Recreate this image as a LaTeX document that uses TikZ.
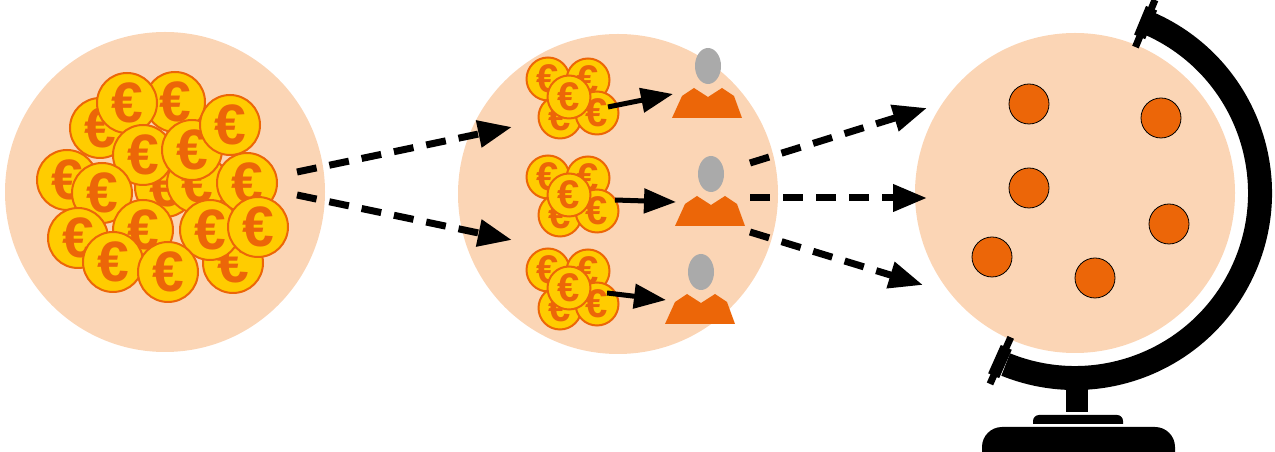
\documentclass[tikz,border=0pt]{standalone}
\usepackage{fontspec}
\newfontfamily\coinfont{Liberation Sans}
\usetikzlibrary{arrows.meta}

\definecolor{peach}{HTML}{FBD5B5}
\definecolor{ecorange}{HTML}{EC6608}
\definecolor{coingold}{HTML}{FFCC00}
\definecolor{headgrey}{HTML}{AAAAAA}

\tikzset{
  person/.pic={
    \fill[ecorange] (-35,0) -- (35,0) -- (27,22) -- (15,30) -- (1,21) -- (-13,30) -- (-25,22) -- cycle;
    \fill[headgrey] (1,52) ellipse [x radius=13, y radius=18];
    \coordinate (-in) at (-34,24);
  }
}

\begin{document}
\begin{tikzpicture}[x=1pt, y=1pt,
    disc/.style={circle, fill=peach, minimum size=320pt, inner sep=0pt},
    coin/.style={circle, draw=ecorange, line width=2pt, fill=coingold, text=ecorange,
      minimum size=60pt, inner sep=0pt, font=\coinfont\bfseries\fontsize{57}{57}\selectfont},
    smallcoin/.style={coin, minimum size=43pt, font=\coinfont\bfseries\fontsize{40}{40}\selectfont},
    country/.style={circle, draw=black, line width=0.8pt, fill=ecorange, minimum size=40pt, inner sep=0pt},
    flow/.style={draw, line width=7pt, dash pattern=on 20pt off 13pt, -{Triangle[length=34pt,width=26pt]}},
    pay/.style={draw, line width=5pt, -{Triangle[length=32pt,width=24pt]}}]
  \useasboundingbox (0,0) rectangle (1275,452);

  \node [disc] (pool) at (165,260) {};
  \node [disc] (team) at (618,258) {};
  \node [disc] (globe) at (1075,259) {};

  \foreach \x/\y [count=\i] in {100/324, 175/350, 127/349, 67/272, 165/265, 197/269,
      247/269, 143/297, 192/302, 230/327, 102/259, 78/214, 143/222, 233/189,
      210/222, 258/225, 113/190, 168/180}
    \node [coin] (c\i) at (\x,\y) {€};

  \foreach \g/\x/\y/\dx/\dy in {1/569/355/39/-10, 2/569/257/46/-5, 3/569/164/38/-5} {
    \node [smallcoin] (w\g-a) at (\x-21,\y+18) {€};
    \node [smallcoin] (w\g-b) at (\x+19,\y+17) {€};
    \node [smallcoin] (w\g-c) at (\x-9,\y-20) {€};
    \node [smallcoin] (w\g-d) at (\x+28,\y-16) {€};
    \node [smallcoin] (w\g-e) at (\x,\y) {€};
    \coordinate (s\g) at (\x+\dx,\y+\dy);
  }

  \pic (p1) at (707,334) {person};
  \pic (p2) at (710,226) {person};
  \pic (p3) at (700,128) {person};

  \foreach \x/\y [count=\i] in {1029/348, 1161/334, 1029/264, 1169/228, 992/195, 1095/174}
    \node [country] (d\i) at (\x,\y) {};

  % stand of the globe
  \begin{scope}[shift={(globe.center)}]
    \draw [line width=24pt] (66:185) arc [start angle=66, end angle=-112, radius=185];
    \foreach \a in {67.5,-114} {
      \begin{scope}[rotate=\a]
        \fill (158,-3.5) rectangle (209,3.5);
        \fill (169,-6) rectangle (200,6);
      \end{scope}
    }
  \end{scope}
  \fill (1066,40) rectangle (1088,75);
  \fill (1033,28) -- (1033,31) arc [start angle=180, end angle=90, radius=6]
    -- (1117,37) arc [start angle=90, end angle=0, radius=6] -- (1123,28) -- cycle;
  \fill (982,0) -- (982,5) arc [start angle=180, end angle=90, radius=20]
    -- (1155,25) arc [start angle=90, end angle=0, radius=20] -- (1175,0) -- cycle;

  \coordinate (l1) at (297,280);
  \coordinate (l2) at (297,257);
  \coordinate (m1) at (512,325);
  \coordinate (m2) at (512,212);
  \coordinate (r1) at (750,289);
  \coordinate (r2) at (750,254);
  \coordinate (r3) at (750,220);
  \coordinate (g1) at (927,344);
  \coordinate (g2) at (927,254);
  \coordinate (g3) at (923,167);

  \path
  (l1) edge [flow] (m1)
  (l2) edge [flow] (m2)
  (r1) edge [flow] (g1)
  (r2) edge [flow] (g2)
  (r3) edge [flow] (g3)
  (s1) edge [pay] (p1-in)
  (s2) edge [pay] (p2-in)
  (s3) edge [pay] (p3-in)
  ;
\end{tikzpicture}
\end{document}
